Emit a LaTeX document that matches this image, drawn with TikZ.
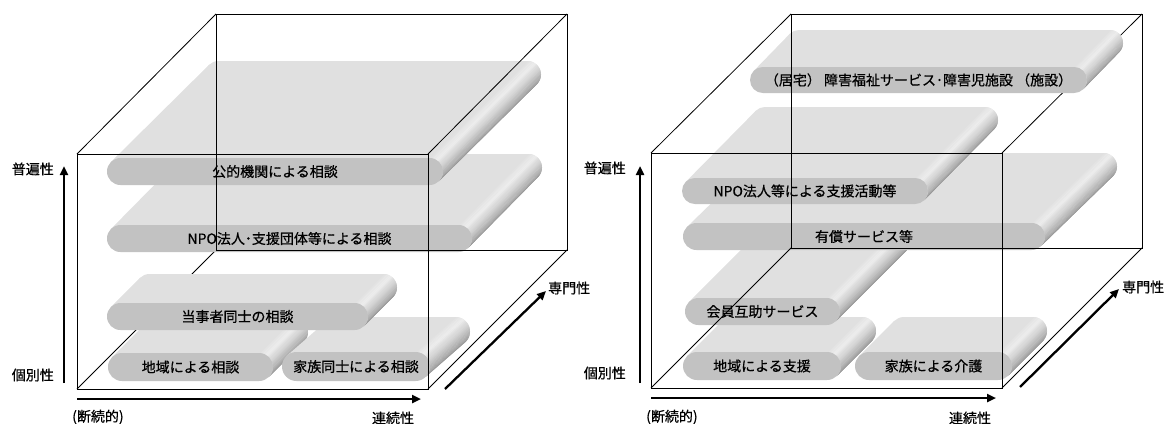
\documentclass[tikz,border=0pt]{standalone}
\usepackage{fontspec}
\newfontfamily\jp[FakeBold=0.6]{Noto Sans CJK JP}
\usetikzlibrary{calc,arrows.meta}
\tikzset{
  cube/.style={line width=0.8pt, black},
  axis/.style={line width=2.3pt, -{Triangle[length=9pt,width=8pt]}},
  lbl/.style={font=\jp\fontsize{14}{14}\selectfont, inner sep=0pt, text=black},
  slabtop/.style={fill=black!12},
  slabfront/.style={fill=black!24},
}
\newcommand{\drawslab}[8]{%
  \pgfmathsetmacro{\sR}{(#5-#3)/2}%
  \pgfmathsetmacro{\sCY}{(#5+#3)/2}%
  \pgfmathsetmacro{\sRX}{#4-\sR}%
  \pgfmathsetmacro{\sLX}{#2+\sR}%
  \pgfmathsetmacro{\sRc}{\sR-0.05}%
  \fill[slabtop, rounded corners=\sRc pt] (#2+#6,#3-#7) rectangle (#4+#6,#5-#7);
  \fill[slabtop] ($(\sLX,\sCY)+(-135:\sR)$) -- ++(#6,-#7) -- ($(\sRX,\sCY)+(45:\sR)+(#6,-#7)$) -- ($(\sRX,\sCY)+(45:\sR)$) -- cycle;
  \foreach \k in {0,...,26} {
    \pgfmathsetmacro{\angA}{-90+\k*5}
    \pgfmathsetmacro{\angB}{min(-90+\k*5+5.6,45)}
    \pgfmathsetmacro{\sT}{(\k+0.5)/27}
    \pgfmathtruncatemacro{\sBk}{\sT<0.25 ? 13-24*\sT : 7+38*(\sT-0.25)/0.75}
    \fill[black!\sBk] ($(\sRX,\sCY)+(\angA:\sR)$) -- ++(#6,-#7) -- ($(\sRX,\sCY)+(\angB:\sR)+(#6,-#7)$) -- ($(\sRX,\sCY)+(\angB:\sR)$) -- cycle;
  }
  \fill[slabfront, rounded corners=\sRc pt] (#2,#3) rectangle (#4,#5);
  \node[lbl] (#1) at ({(#2+#4)/2},\sCY) {#8};
}
\begin{document}
\begin{tikzpicture}[x=1pt,y=-1pt]
\useasboundingbox (0,0) rectangle (1167,423);
% ---------------- left cube ----------------
\coordinate (lF1) at (77,154);  \coordinate (lF2) at (428,154);
\coordinate (lF3) at (428,389); \coordinate (lF4) at (77,389);
\coordinate (lB1) at (216,14);  \coordinate (lB2) at (567,14);
\coordinate (lB3) at (567,250); \coordinate (lB4) at (216,250);
\draw[cube] (lF4) -- (lB4);
\drawslab{sD}{108}{353}{273}{381}{35}{35}{地域による相談}
\drawslab{sE}{282}{352}{430}{381}{40}{35}{家族同士による相談}
\drawslab{sC}{107}{303}{368}{330}{29}{29}{当事者同士の相談}
\drawslab{sB}{107}{225}{472}{252}{70}{71}{NPO法人･支援団体等による相談}
\drawslab{sA}{107}{158}{443}{185}{98}{97}{公的機関による相談}
\draw[cube] (lF1) -- (lF2) -- (lF3) -- (lF4) -- cycle;
\draw[cube] (lB1) -- (lB2) -- (lB3) -- (lB4) -- cycle;
\draw[cube] (lF1) -- (lB1) (lF2) -- (lB2) (lF3) -- (lB3);
% axes left
\coordinate (lVa) at (64,383); \coordinate (lVb) at (64,166);
\coordinate (lHa) at (77,399); \coordinate (lHb) at (421,399);
\coordinate (lDa) at (445,389); \coordinate (lDb) at (546,291);
\draw[axis] (lVa) -- (lVb);
\draw[axis] (lHa) -- (lHb);
\draw[axis] (lDa) -- (lDb);
\node[lbl, anchor=east] (lHi) at (54,169) {普遍性};
\node[lbl, anchor=east] (lLo) at (54,375) {個別性};
\node[lbl, anchor=west] (lDisc) at (72,417) {(断続的)};
\node[lbl] (lCont) at (393,418) {連続性};
\node[lbl, anchor=west] (lSpec) at (548,288) {専門性};
% ---------------- right cube ----------------
\coordinate (rF1) at (651,153);  \coordinate (rF2) at (1002,153);
\coordinate (rF3) at (1002,388); \coordinate (rF4) at (651,388);
\coordinate (rB1) at (791,14);   \coordinate (rB2) at (1142,14);
\coordinate (rB3) at (1142,248); \coordinate (rB4) at (791,248);
\draw[cube] (rF2) -- (rB2);
\drawslab{sJ}{683}{352}{841}{380}{35}{35}{地域による支援}
\drawslab{sK}{855}{352}{1012}{380}{35}{35}{家族による介護}
\drawslab{sI}{685}{298}{840}{325}{70}{70}{会員互助サービス}
\drawslab{sH}{683}{223}{1045}{250}{72}{70}{有償サービス等}
\drawslab{sG}{682}{178}{928}{204}{70}{71}{NPO法人等による支援活動等}
\drawslab{sF}{750}{67}{1087}{93}{36}{37}{（居宅） 障害福祉サービス･障害児施設 （施設）}
\draw[cube] (rF1) -- (rF2) -- (rF3) -- (rF4) -- cycle;
\draw[cube] (rB1) -- (rB2) -- (rB3) -- (rB4) -- cycle;
\draw[cube] (rF1) -- (rB1) (rF3) -- (rB3) (rF4) -- (rB4);
% axes right
\coordinate (rVa) at (640,383); \coordinate (rVb) at (640,166);
\coordinate (rHa) at (651,398); \coordinate (rHb) at (996,398);
\coordinate (rDa) at (1020,387); \coordinate (rDb) at (1119,289);
\draw[axis] (rVa) -- (rVb);
\draw[axis] (rHa) -- (rHb);
\draw[axis] (rDa) -- (rDb);
\node[lbl, anchor=east] (rHi) at (626,168) {普遍性};
\node[lbl, anchor=east] (rLo) at (626,373) {個別性};
\node[lbl, anchor=west] (rDisc) at (646,417) {(断続的)};
\node[lbl] (rCont) at (970,418) {連続性};
\node[lbl, anchor=west] (rSpec) at (1122,287) {専門性};
\end{tikzpicture}
\end{document}
